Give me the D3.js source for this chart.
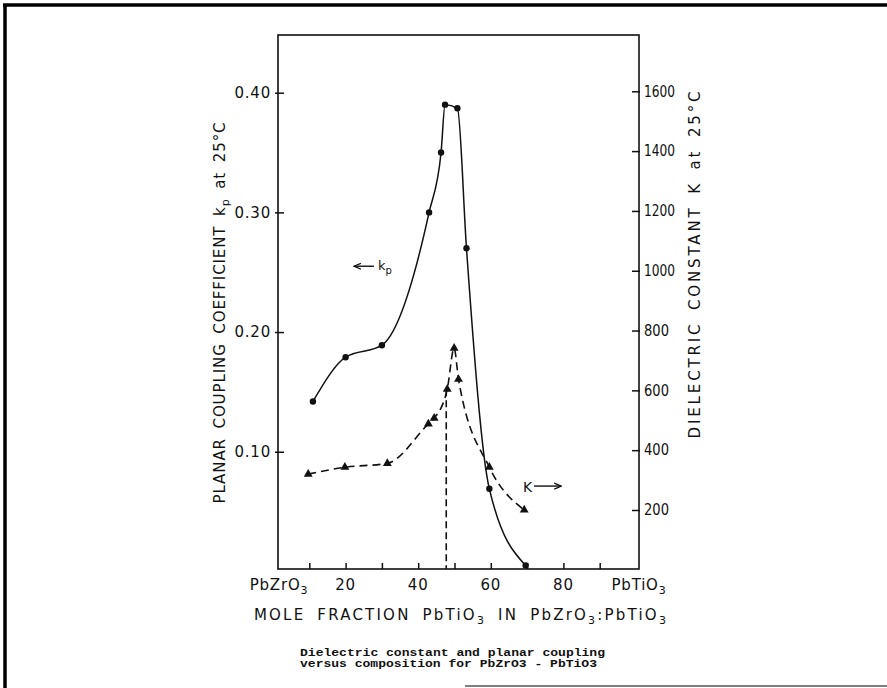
<!DOCTYPE html>
<html>
<head>
<meta charset="utf-8">
<script src="https://cdn.jsdelivr.net/npm/d3@7"></script>
<style>
  html, body { margin: 0; padding: 0; background: #fff; }
  svg { display: block; }
  text { font-family: "DejaVu Sans", "Liberation Sans", sans-serif; fill: #111; }
</style>
</head>
<body>
<svg id="chart" width="887" height="688"></svg>
<script>
// ---------------- data ----------------
// Planar coupling coefficient kp (left axis), filled circles, solid line
const kpComposition = [11, 20, 30, 43, 46.3, 47.4, 50.8, 53.3, 59.6, 69.6];
const kpValues      = [0.142, 0.179, 0.189, 0.300, 0.350, 0.390, 0.387, 0.270, 0.069, 0.005];

// Dielectric constant K (right axis), triangles, dashed line
const kComposition = [9.7, 19.8, 31.5, 42.8, 44.4, 48.0, 49.9, 51.1, 59.6, 69.2];
const kValues      = [320, 343, 356, 488, 507, 604, 741, 637, 343, 200];

// Morphotropic boundary marker (vertical dashed line)
const boundaryComposition = [48.0];
const boundaryK = [604];

// Tick values / labels
const xTickValues = [10, 20, 30, 40, 50, 60, 70, 80, 90];
const xLabelValues = [0, 20, 40, 60, 80, 100];
const xLabelTexts = [[["PbZrO", 0], ["3", 1]], [["20", 0]], [["40", 0]], [["60", 0]], [["80", 0]], [["PbTiO", 0], ["3", 1]]];
const kpTickValues = [0.10, 0.20, 0.30, 0.40];
const kTickValues = [200, 400, 600, 800, 1000, 1200, 1400, 1600];

// ---------------- layout ----------------
const svg = d3.select("#chart");
const frame = { left: 278, right: 639, top: 35, bottom: 569 };

const x  = d3.scaleLinear().domain([0, 100]).range([273, 636]);
const yL = d3.scaleLinear().domain([0, 0.4]).range([571.4, 92.7]);
const yR = d3.scaleLinear().domain([0, 1600]).range([569.8, 91.3]);

// outer page frame (scan border)
svg.append("line").attr("x1", 3).attr("x2", 887).attr("y1", 5).attr("y2", 5)
  .attr("stroke", "#000").attr("stroke-width", 3.5);
svg.append("line").attr("x1", 5).attr("x2", 5).attr("y1", 4).attr("y2", 688)
  .attr("stroke", "#000").attr("stroke-width", 3.5);
svg.append("line").attr("x1", 465).attr("x2", 887).attr("y1", 686).attr("y2", 686)
  .attr("stroke", "#555").attr("stroke-width", 1.5);

// plot frame
svg.append("rect")
  .attr("x", frame.left).attr("y", frame.top)
  .attr("width", frame.right - frame.left).attr("height", frame.bottom - frame.top)
  .attr("fill", "none").attr("stroke", "#111").attr("stroke-width", 1.6);

// helper for text with subscripts
function richText(g, parts, subSize) {
  parts.forEach(([s, sub], i) => {
    const t = g.append("tspan").text(s);
    if (sub) { t.attr("dy", 4).style("font-size", subSize + "px"); }
    else if (i > 0 && parts[i - 1][1]) { t.attr("dy", -4); }
  });
  return g;
}
function fitWidth(t, target) {
  const node = t.node();
  const n = node.textContent.length;
  const w = node.getComputedTextLength();
  t.style("letter-spacing", ((target - w) / (n - 1)) + "px");
}

// left axis
const gL = svg.append("g").attr("transform", `translate(${frame.left},0)`)
  .call(d3.axisLeft(yL).tickValues(kpTickValues).tickFormat(d3.format(".2f"))
    .tickSizeInner(3).tickSizeOuter(0).tickPadding(4));
gL.select(".domain").remove();
gL.selectAll(".tick line").attr("x1", 6).attr("stroke", "#111").attr("stroke-width", 1.5);
gL.selectAll(".tick text").style("font-size", "15px").style("letter-spacing", "0.8px")
  .attr("fill", "#111").style("font-family", "DejaVu Sans");

// right axis
const gR = svg.append("g").attr("transform", `translate(${frame.right},0)`)
  .call(d3.axisRight(yR).tickValues(kTickValues).tickFormat(d3.format("d"))
    .tickSizeInner(1).tickSizeOuter(0).tickPadding(4));
gR.select(".domain").remove();
gR.selectAll(".tick line").attr("x1", -7).attr("stroke", "#111").attr("stroke-width", 1.5);
gR.selectAll(".tick text").style("font-size", "15px")
  .attr("textLength", d => d >= 1000 ? 31 : 25).attr("lengthAdjust", "spacingAndGlyphs")
  .attr("fill", "#111").style("font-family", "DejaVu Sans");

// bottom axis ticks (inward)
const gB = svg.append("g").attr("transform", `translate(0,${frame.bottom})`)
  .call(d3.axisBottom(x).tickValues(xTickValues).tickFormat("").tickSizeInner(0).tickSizeOuter(0));
gB.select(".domain").remove();
gB.selectAll(".tick line").attr("y1", 0).attr("y2", -6).attr("stroke", "#111").attr("stroke-width", 1.5);

// bottom tick labels
xLabelValues.forEach((v, i) => {
  const t = svg.append("text")
    .attr("x", x(v) + (i === 0 ? 6 : (i === xLabelValues.length - 1 ? 3 : 0)))
    .attr("y", 590).attr("text-anchor", "middle")
    .style("font-size", "15px").style("letter-spacing", "0.8px");
  richText(t, xLabelTexts[i], 11);
});

// axis titles
const tL = svg.append("text")
  .attr("transform", "translate(225,312.5) rotate(-90)")
  .attr("text-anchor", "middle").style("font-size", "15px").style("word-spacing", "4px");
richText(tL, [["PLANAR COUPLING COEFFICIENT k", 0], ["p", 1], [" at 25°C", 0]], 11);
fitWidth(tL, 381);

const tR = svg.append("text")
  .attr("transform", "translate(700,263.5) rotate(-90)")
  .attr("text-anchor", "middle").style("font-size", "15px").style("word-spacing", "4px")
  .text("DIELECTRIC CONSTANT K at 25°C");
fitWidth(tR, 347);

const tX = svg.append("text")
  .attr("x", 461).attr("y", 620).attr("text-anchor", "middle")
  .style("font-size", "15px").style("word-spacing", "5px");
richText(tX, [["MOLE FRACTION PbTiO", 0], ["3", 1], [" IN PbZrO", 0], ["3", 1], [":PbTiO", 0], ["3", 1]], 11);
fitWidth(tX, 412);

// caption
const captionLines = ["Dielectric constant and planar coupling", "versus composition for PbZrO3 - PbTiO3"];
const captionWidths = [305, 297];
captionLines.forEach((s, i) => {
  svg.append("text").attr("x", 300).attr("y", 656 + i * 11)
    .style("font-family", "Liberation Mono, DejaVu Sans Mono, monospace")
    .style("font-size", "10px").style("font-weight", "bold")
    .attr("textLength", captionWidths[i]).attr("lengthAdjust", "spacingAndGlyphs")
    .attr("fill", "#333").text(s);
});

// ---------------- data marks ----------------
const kpData = kpComposition.map((c, i) => ({ c, v: kpValues[i] }));
const kData  = kComposition.map((c, i) => ({ c, v: kValues[i] }));

svg.append("path").datum(kpData)
  .attr("fill", "none").attr("stroke", "#111").attr("stroke-width", 1.5)
  .attr("d", d3.line().x(d => x(d.c)).y(d => yL(d.v)).curve(d3.curveMonotoneX));

svg.append("path").datum(kData)
  .attr("fill", "none").attr("stroke", "#111").attr("stroke-width", 1.6)
  .attr("stroke-dasharray", "8,5")
  .attr("d", d3.line().x(d => x(d.c)).y(d => yR(d.v)).curve(d3.curveMonotoneX));

// vertical dashed boundary line
svg.selectAll(".boundary").data(boundaryComposition).join("line")
  .attr("class", "boundary")
  .attr("x1", d => x(d) - 1).attr("x2", d => x(d) - 1)
  .attr("y1", (d, i) => yR(boundaryK[i])).attr("y2", frame.bottom)
  .attr("stroke", "#111").attr("stroke-width", 1.6).attr("stroke-dasharray", "7,4");

svg.selectAll(".kp").data(kpData).join("circle")
  .attr("class", "kp")
  .attr("cx", d => x(d.c)).attr("cy", d => yL(d.v)).attr("r", 3.2).attr("fill", "#111");

svg.selectAll(".k").data(kData).join("path")
  .attr("class", "k")
  .attr("transform", d => `translate(${x(d.c)},${yR(d.v)})`)
  .attr("d", d3.symbol().type(d3.symbolTriangle).size(34))
  .attr("fill", "#111");

// ---------------- annotations ----------------
const defs = svg.append("defs");
defs.append("marker").attr("id", "arr").attr("viewBox", "0 -4 8 8")
  .attr("refX", 7).attr("refY", 0).attr("markerWidth", 8).attr("markerHeight", 8)
  .attr("markerUnits", "userSpaceOnUse").attr("orient", "auto")
  .append("path").attr("d", "M0,-3L7,0L0,3").attr("fill", "none").attr("stroke", "#111").attr("stroke-width", 1.3);

// "<- kp"
svg.append("line")
  .attr("x1", x(27.8)).attr("x2", x(22.3)).attr("y1", yL(0.255)).attr("y2", yL(0.255))
  .attr("stroke", "#111").attr("stroke-width", 1.4).attr("marker-end", "url(#arr)");
const kpLab = svg.append("text").attr("x", x(28.9)).attr("y", yL(0.255) + 4)
  .style("font-size", "13px");
richText(kpLab, [["k", 0], ["p", 1]], 10);

// "K ->"
svg.append("text").attr("x", x(68.9)).attr("y", yR(280) + 5.5).style("font-size", "14px").text("K");
svg.append("line")
  .attr("x1", x(71.9)).attr("x2", x(79.4)).attr("y1", yR(280)).attr("y2", yR(280))
  .attr("stroke", "#111").attr("stroke-width", 1.4).attr("marker-end", "url(#arr)");
</script>
</body>
</html>
